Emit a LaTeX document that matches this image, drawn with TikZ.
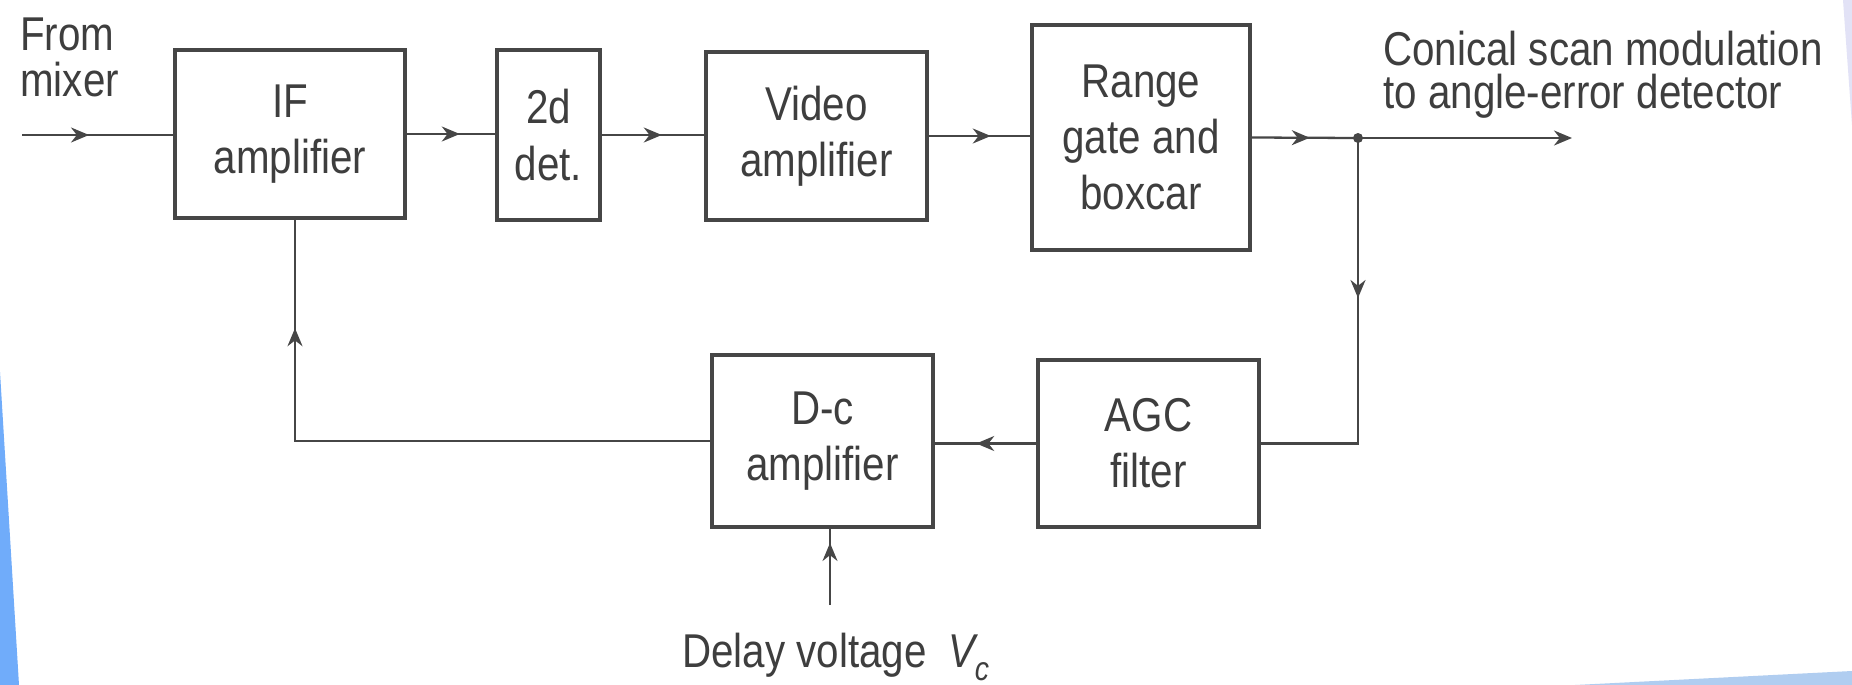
\documentclass[tikz,border=0pt]{standalone}
\usepackage{fontspec}
\setmainfont{Liberation Sans}[FakeStretch=0.85]
\usetikzlibrary{arrows.meta,decorations.markings}
\definecolor{ink}{RGB}{70,70,70}
\definecolor{txt}{RGB}{62,62,62}
\definecolor{blueA}{RGB}{112,172,250}
\definecolor{blueB}{RGB}{176,205,240}
\definecolor{lav}{RGB}{226,226,246}
\begin{document}
\begin{tikzpicture}[x=0.2mm,y=-0.2mm,
  blk/.style={draw=ink, line width=2pt, inner sep=0pt, align=center, text=txt,
    font=\fontsize{27pt}{32pt}\selectfont},
  wire/.style={draw=ink, line width=1.3pt},
  marrow/.style={postaction={decorate}, decoration={markings,
    mark=at position #1 with {\arrow[ink]{Stealth[length=3.6mm,width=3mm]}}}},
  endarrow/.style={-{Stealth[length=3.6mm,width=3mm]}},
  lbl/.style={text=txt, inner sep=0pt, font=\fontsize{27pt}{32pt}\selectfont}
]
\useasboundingbox (0,0) rectangle (1852,685);
\fill[white] (0,0) rectangle (1852,685);
% slide decorations
\fill[blueA] (0,372) -- (19,685) -- (0,685) -- cycle;
\fill[blueB] (1575,685) -- (1852,671) -- (1852,685) -- cycle;
\fill[lav] (1843,0) -- (1852,0) -- (1852,125) -- cycle;

% blocks
\node[blk, minimum width=46mm, minimum height=33.6mm] (IF) at (290,134) {IF\\amplifier};
\node[blk, minimum width=20.6mm, minimum height=34mm] (dd) at (548.5,135) {2d\\det.};
\node[blk, minimum width=44.2mm, minimum height=33.6mm] (vid) at (816.5,136) {Video\\amplifier};
\node[blk, minimum width=43.6mm, minimum height=45mm] (rg) at (1141,137.5) {Range\\gate and\\boxcar};
\node[blk, minimum width=44.2mm, minimum height=33.4mm] (agc) at (1148.5,443.5) {AGC\\filter};
\node[blk, minimum width=44.2mm, minimum height=34.4mm] (dc) at (822.5,441) {D-c\\amplifier};

% labels
\node[lbl, anchor=base west] (from1) at (20,51) {From};
\node[lbl, anchor=base west] (from2) at (20,96) {mixer};
\node[lbl, anchor=base west] (out1) at (1383,65) {Conical scan modulation};
\node[lbl, anchor=base west] (out2) at (1383,108) {to angle-error detector};
\node[lbl, anchor=base west] (dly) at (682,667) {Delay voltage\hspace{0.45em}{\itshape V}\raisebox{-0.55ex}{\fontsize{19pt}{19pt}\selectfont\itshape c}};

% coordinates
\coordinate (in) at (22,135);
\coordinate (J) at (1358,138);
\coordinate (out) at (1572,138);
\coordinate (fb) at (295,441);
\coordinate (dv) at (830,605);

% connectors
\draw[wire, marrow=1.34cm] (in) -- (IF.west |- in);
\draw[wire, marrow=1.06cm] (IF.east) -- (IF.east -| dd.west);
\draw[wire, marrow=1.2cm] (dd.east) -- (dd.east -| vid.west);
\draw[wire, marrow=1.24cm] (vid.east) -- (vid.east -| rg.west);
\draw[wire, marrow=1.16cm] (rg.east) -- (J);
\draw[wire, endarrow] (J) -- (out);
\fill[ink] (J) circle (1mm);
\draw[wire, marrow=3.2cm] (J) |- (agc.east);
\draw[wire, marrow=1.2cm] (agc.west) -- (agc.west -| dc.east);
\draw[wire, marrow=10.56cm] (dc.west) -| (fb |- IF.south);
\draw[wire, marrow=1.24cm] (dv) -- (dv |- dc.south);
\end{tikzpicture}
\end{document}
